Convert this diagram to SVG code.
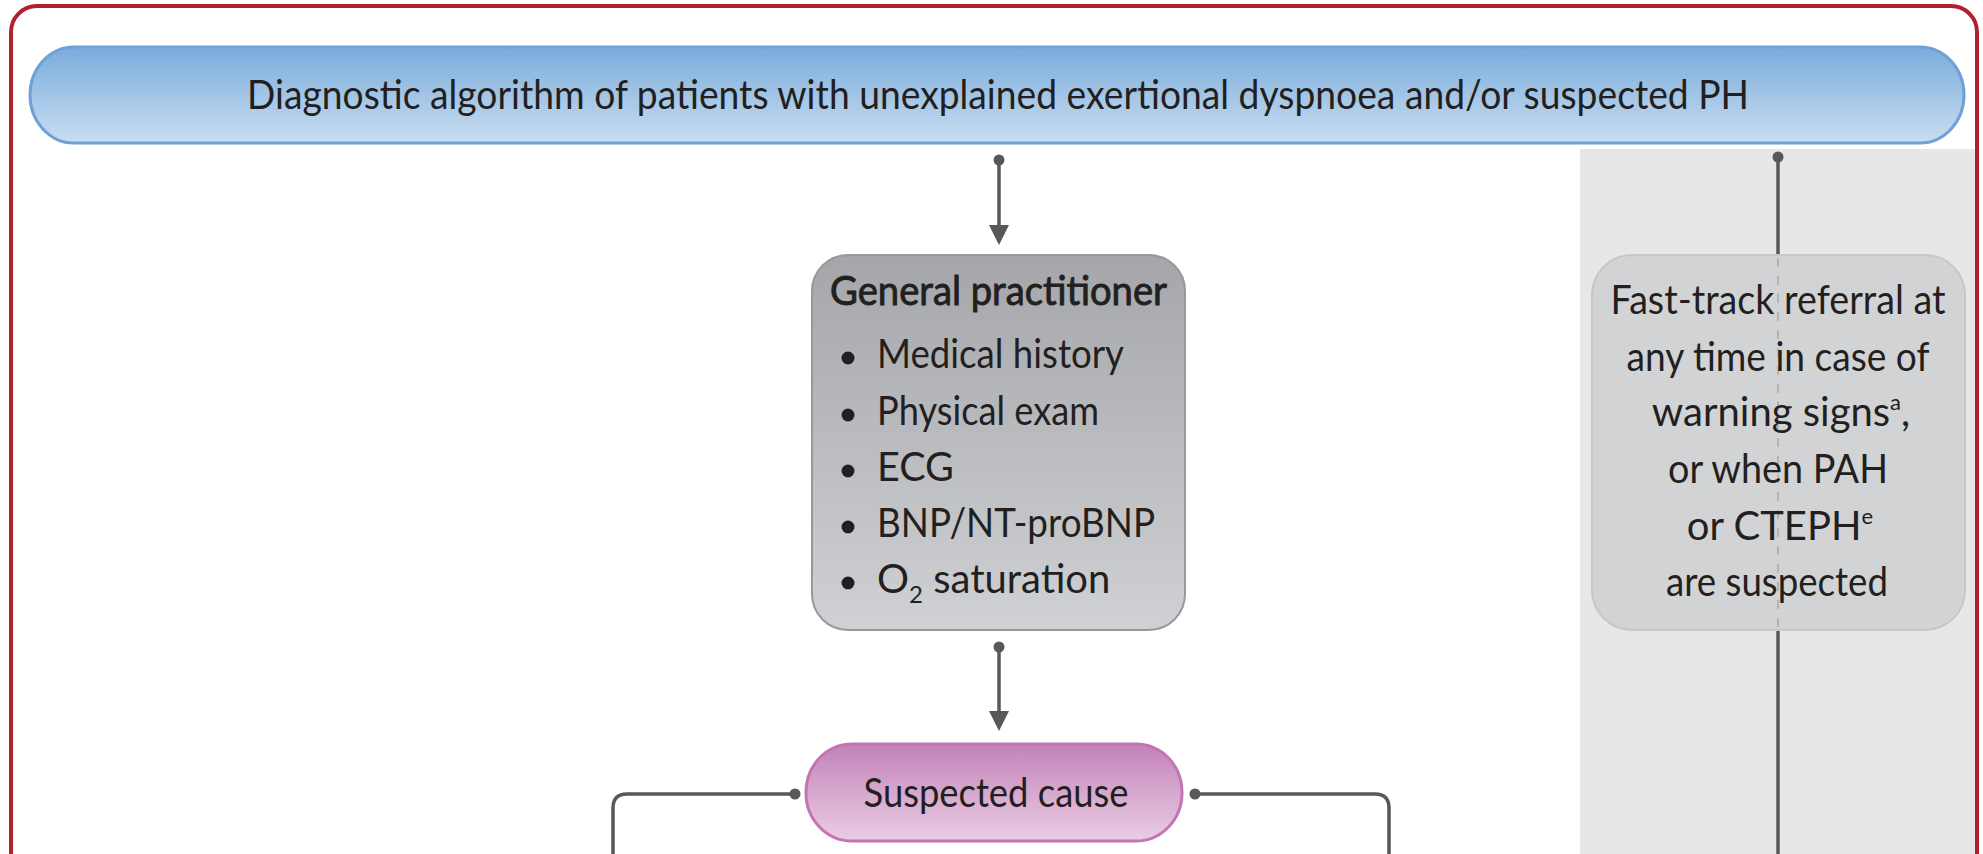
<svg xmlns="http://www.w3.org/2000/svg" width="1983" height="854" viewBox="0 0 1983 854">
  <style>
    .t { font-family: "Lato", "Liberation Sans", sans-serif; fill: #231f20; }
    .wire { fill: none; stroke: #58585a; stroke-width: 3.5; }
  </style>
  <defs>
    <linearGradient id="gBlue" x1="0" y1="0" x2="0" y2="1">
      <stop offset="0" stop-color="#7bacdb"/>
      <stop offset="1" stop-color="#c9ddf1"/>
    </linearGradient>
    <linearGradient id="gGrey" x1="0" y1="0" x2="0" y2="1">
      <stop offset="0" stop-color="#a4a6a9"/>
      <stop offset="1" stop-color="#cfd1d4"/>
    </linearGradient>
    <linearGradient id="gPink" x1="0" y1="0" x2="0" y2="1">
      <stop offset="0" stop-color="#c382b8"/>
      <stop offset="1" stop-color="#eacde4"/>
    </linearGradient>
    <marker id="arrow" markerUnits="userSpaceOnUse" markerWidth="20" markerHeight="20" viewBox="0 0 20 20" refX="10" refY="10" orient="auto">
      <path d="M0,0 L20,10 L0,20 Z" fill="#58585a"/>
    </marker>
    <marker id="dot" markerUnits="userSpaceOnUse" markerWidth="12" markerHeight="12" viewBox="0 0 12 12" refX="6" refY="6">
      <circle cx="6" cy="6" r="5.5" fill="#58585a"/>
    </marker>
  </defs>

  <rect width="1983" height="854" fill="#ffffff"/>

  <!-- shaded lane for the fast-track route -->
  <rect id="fast-track-lane" x="1580" y="149" width="397" height="720" fill="#e7e7e7"/>

  <!-- outer frame -->
  <rect id="frame" x="11" y="6" width="1966" height="900" rx="26" ry="26" fill="none" stroke="#b1202f" stroke-width="4"/>

  <!-- connectors -->
  <g id="connectors">
    <path class="wire" d="M999,160 V235" marker-start="url(#dot)" marker-end="url(#arrow)"/>
    <path class="wire" d="M999,647 V721" marker-start="url(#dot)" marker-end="url(#arrow)"/>
    <path class="wire" d="M795,794 H627 Q613,794 613,808 V870" marker-start="url(#dot)"/>
    <path class="wire" d="M1195,794 H1375 Q1389,794 1389,808 V870" marker-start="url(#dot)"/>
    <path class="wire" d="M1778,157 V256" marker-start="url(#dot)"/>
    <path class="wire" d="M1778,629 V870"/>
  </g>

  <!-- title banner -->
  <g id="title">
    <rect x="30" y="47" width="1934" height="96" rx="44" ry="48" fill="url(#gBlue)" stroke="#6ea2d6" stroke-width="3"/>
    <text class="t" x="998" y="109" font-size="40" text-anchor="middle" textLength="1502" lengthAdjust="spacingAndGlyphs">Diagnostic algorithm of patients with unexplained exertional dyspnoea and/or suspected PH</text>
  </g>

  <!-- general practitioner -->
  <g id="general-practitioner">
    <rect x="812" y="255" width="373" height="375" rx="36" ry="36" fill="url(#gGrey)" stroke="#96989b" stroke-width="2"/>
    <text class="t" x="998.5" y="305" font-size="40" text-anchor="middle" stroke="#231f20" stroke-width="0.9" textLength="337" lengthAdjust="spacingAndGlyphs">General practitioner</text>
    <g fill="#231f20">
      <circle cx="848" cy="358" r="6.5"/>
      <circle cx="848" cy="415" r="6.5"/>
      <circle cx="848" cy="471" r="6.5"/>
      <circle cx="848" cy="527" r="6.5"/>
      <circle cx="848" cy="583" r="6.5"/>
    </g>
    <text class="t" x="877" y="368" font-size="40" textLength="247" lengthAdjust="spacingAndGlyphs">Medical history</text>
    <text class="t" x="877" y="425" font-size="40" textLength="222" lengthAdjust="spacingAndGlyphs">Physical exam</text>
    <text class="t" x="877" y="481" font-size="40" textLength="77" lengthAdjust="spacingAndGlyphs">ECG</text>
    <text class="t" x="877" y="537" font-size="40" textLength="278" lengthAdjust="spacingAndGlyphs">BNP/NT-proBNP</text>
    <text class="t" x="877" y="593" font-size="40">O<tspan font-size="24" dy="10">2</tspan><tspan dy="-10"> saturation</tspan></text>
  </g>

  <!-- suspected cause -->
  <g id="suspected-cause">
    <rect x="806" y="744" width="376" height="97" rx="46" ry="48" fill="url(#gPink)" stroke="#c374b3" stroke-width="3"/>
    <text class="t" x="996" y="807" font-size="40" text-anchor="middle" textLength="265" lengthAdjust="spacingAndGlyphs">Suspected cause</text>
  </g>

  <!-- fast-track referral -->
  <g id="fast-track-referral">
    <rect x="1592" y="255" width="373" height="375" rx="40" ry="40" fill="#d2d3d5" stroke="#c6c7c9" stroke-width="2"/>
    <path d="M1778,258 V628" fill="none" stroke="#a9aaac" stroke-width="1.5" stroke-dasharray="9 9"/>
    <g class="t" font-size="40" text-anchor="middle">
      <text x="1778" y="314" textLength="335" lengthAdjust="spacingAndGlyphs">Fast-track referral at</text>
      <text x="1778" y="371" textLength="303" lengthAdjust="spacingAndGlyphs">any time in case of</text>
      <text x="1781" y="426">warning signs<tspan font-size="22" dy="-16">a</tspan><tspan dy="16">,</tspan></text>
      <text x="1778" y="483" textLength="220" lengthAdjust="spacingAndGlyphs">or when PAH</text>
      <text x="1780" y="540">or CTEPH<tspan font-size="22" dy="-16">e</tspan></text>
      <text x="1777" y="596" textLength="222" lengthAdjust="spacingAndGlyphs">are suspected</text>
    </g>
  </g>
</svg>
